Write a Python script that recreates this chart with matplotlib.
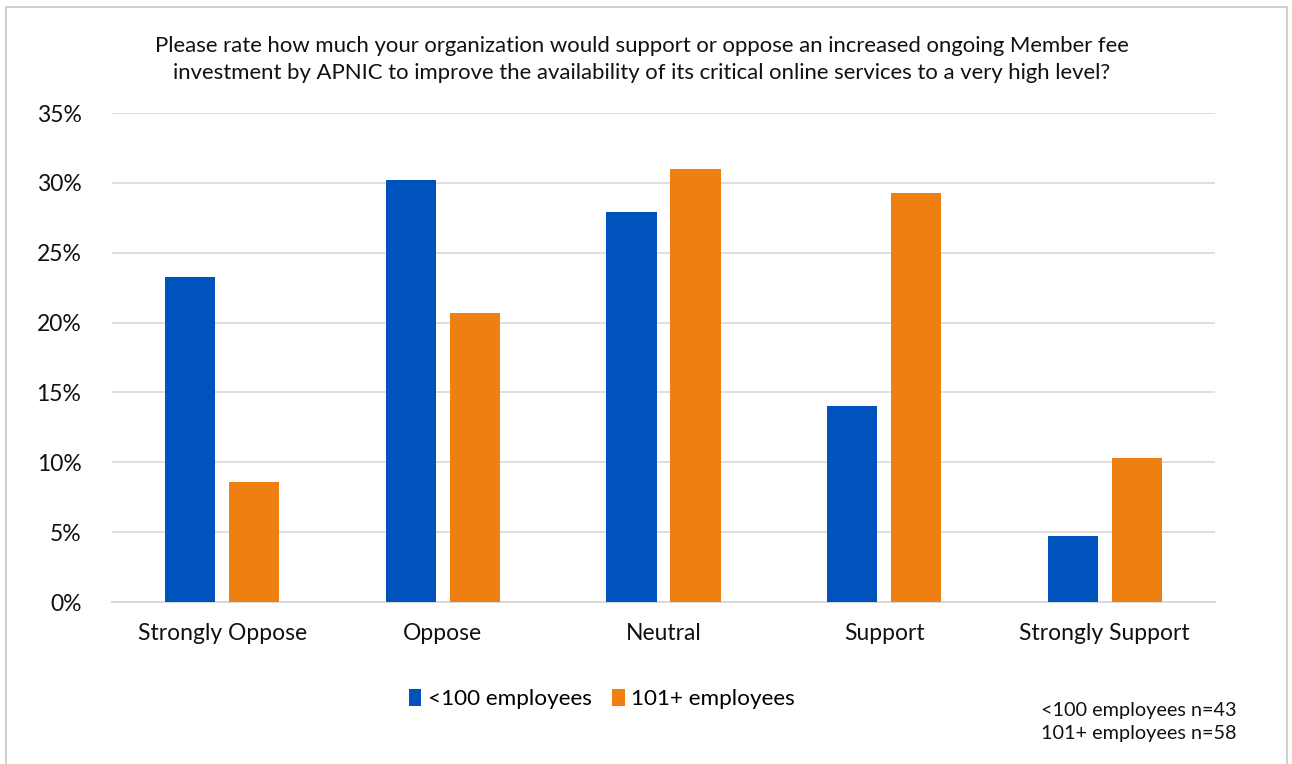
import matplotlib
matplotlib.use("Agg")
import matplotlib.pyplot as plt
import numpy as np
from matplotlib.patches import Rectangle

categories = ["Strongly Oppose", "Oppose", "Neutral", "Support", "Strongly Support"]
small_orgs = [23.3, 30.2, 27.9, 14.0, 4.7]
large_orgs = [8.6, 20.7, 31.0, 29.3, 10.3]
series_names = ["<100 employees", "101+ employees"]
y_ticks = [0, 5, 10, 15, 20, 25, 30, 35]

plt.rcParams['font.family'] = ['Lato', 'DejaVu Sans']

blue = "#0052BC"
orange = "#F07F12"

fig = plt.figure(figsize=(12.92, 7.64), dpi=100)
ax = fig.add_axes([0.0867, 0.212, 0.8537, 0.640])

x = np.arange(len(categories))
w = 0.227
ax.bar(x - 0.145, small_orgs, w, color=blue, label=series_names[0], zorder=3)
ax.bar(x + 0.145, large_orgs, w, color=orange, label=series_names[1], zorder=3)

ax.set_xlim(-0.5, len(categories) - 0.5)
ax.set_ylim(0, 35)
ax.set_yticks(y_ticks)
ax.set_yticklabels([f"{t}%" for t in y_ticks])
ax.set_xticks(x)
ax.set_xticklabels(categories)
ax.tick_params(axis="both", length=0, labelsize=16.5, colors="#111111")
ax.tick_params(axis="x", pad=15)
ax.tick_params(axis="y", pad=22)
ax.grid(axis="y", color="#d9d9d9", linewidth=1.2, zorder=0)
for s in ["top", "right", "left"]:
    ax.spines[s].set_visible(False)
ax.spines["bottom"].set_color("#d9d9d9")
ax.spines["bottom"].set_linewidth(1.5)

fig.text(0.497, 0.922,
         "Please rate how much your organization would support or oppose an increased ongoing Member fee\n"
         "investment by APNIC to improve the availability of its critical online services to a very high level?",
         ha="center", va="center", fontsize=15.9, linespacing=1.4, color="#111111")

fig.legend(loc="center", bbox_to_anchor=(0.466, 0.085), ncol=2, frameon=False,
           fontsize=16.2, handlelength=0.55, handleheight=0.8, handletextpad=0.3,
           columnspacing=0.9)

fig.text(0.957, 0.055, "<100 employees n=43\n101+ employees n=58",
         ha="right", va="center", fontsize=14.3, linespacing=1.4, color="#111111")

fig.patches.append(Rectangle((6 / 1292, -0.05), 1281 / 1292, 1.05 - 7 / 764,
                             transform=fig.transFigure, fill=False,
                             edgecolor="#d0d0d0", linewidth=1.5))

fig.savefig("out.png", dpi=100)
